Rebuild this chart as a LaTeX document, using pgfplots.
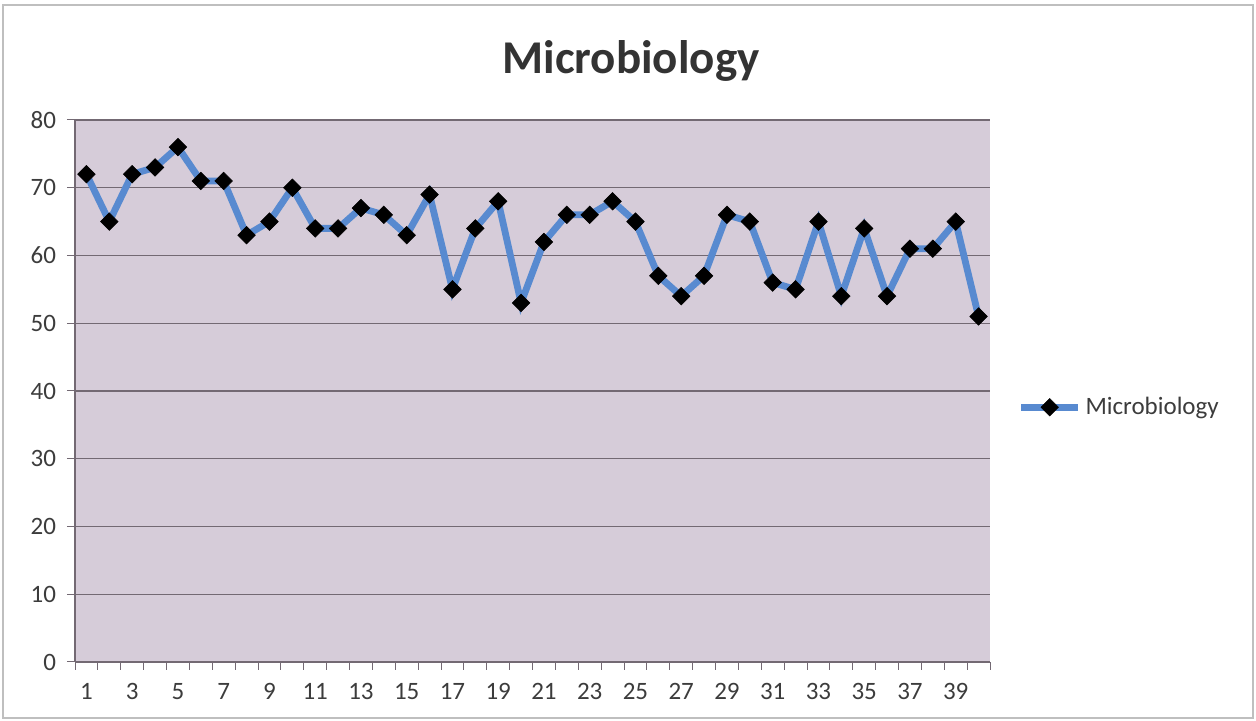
\documentclass[border=0pt]{standalone}
\usepackage{pgfplots}
\pgfplotsset{compat=1.18}
\usepackage{fontspec}
\setmainfont{Carlito}
\definecolor{plotbg}{RGB}{214,204,217}
\definecolor{serblue}{RGB}{88,138,208}
\definecolor{gridc}{RGB}{115,105,115}
\definecolor{tickc}{RGB}{60,60,60}
\begin{document}
\begin{tikzpicture}[x=1pt,y=1pt]
\draw[draw=black!25, line width=0.6pt] (1.5,1.5) rectangle (626.5,358);
\path (0,0) rectangle (628,360.5);
\node[font=\fontsize{23.5}{26}\selectfont\bfseries, text=black!80] at (315.5,330) {Microbiology};
\begin{axis}[
  at={(37.5pt,29.5pt)}, anchor=south west,
  scale only axis, width=457.5pt, height=271pt,
  xmin=0.5, xmax=40.5, ymin=0, ymax=80,
  axis background/.style={fill=plotbg},
  axis lines=left, axis line style={draw=gridc, line width=0.6pt, -},
  ytick={0,10,...,80},
  xtick={1,3,...,39},
  minor xtick={0.5,1.5,...,40.5},
  major x tick style={draw=none},
  minor x tick style={draw=gridc, line width=0.5pt},
  minor tick length=4pt,
  major tick length=4pt,
  y tick style={draw=gridc, line width=0.5pt},
  tick align=outside,
  ymajorgrids, grid style={draw=gridc, line width=0.6pt},
  /pgf/number format/assume math mode=true,
  tick label style={font=\fontsize{12.5}{14}\selectfont, text=tickc},
  yticklabel style={xshift=-2pt},
  xticklabel style={yshift=-3pt},
  legend style={at={(1.03,0.47)}, anchor=west, draw=none, fill=none,
    font=\fontsize{12.5}{14}\selectfont, text=tickc, inner xsep=0pt},
  legend cell align=left,
  legend image code/.code={\draw[#1, mark repeat=2, mark phase=2] plot coordinates {(0cm,0cm) (0.5cm,0cm) (1.0cm,0cm)};},
]
\addplot[serblue, line width=3.4pt, mark=square*, mark size=3.1pt,
  mark options={fill=black, draw=black, rotate=45, line width=0.3pt}]
coordinates {
(1,72) (2,65) (3,72) (4,73) (5,76) (6,71) (7,71) (8,63) (9,65) (10,70)
(11,64) (12,64) (13,67) (14,66) (15,63) (16,69) (17,55) (18,64) (19,68) (20,53)
(21,62) (22,66) (23,66) (24,68) (25,65) (26,57) (27,54) (28,57) (29,66) (30,65)
(31,56) (32,55) (33,65) (34,54) (35,64) (36,54) (37,61) (38,61) (39,65) (40,51)
};
\addlegendentry{Microbiology}
\end{axis}
\end{tikzpicture}
\end{document}
